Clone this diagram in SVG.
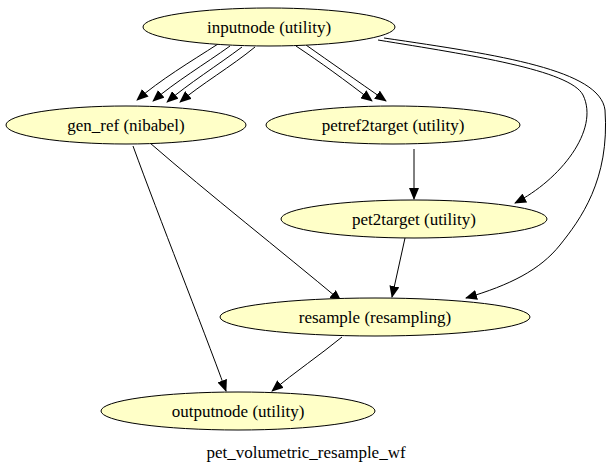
<svg xmlns="http://www.w3.org/2000/svg" width="612" height="473" viewBox="0 0 612 473" font-family="'Liberation Serif','Times New Roman','DejaVu Serif',serif">
<defs>
<marker id="a" markerWidth="12" markerHeight="10" refX="11" refY="5" orient="auto" markerUnits="userSpaceOnUse"><path d="M0,0 L12,5 L0,10 Z" fill="#000"/></marker>
<style>
ellipse{fill:#ffffc8;stroke:#000;stroke-width:1}
text{font-family:'Liberation Serif','Times New Roman','DejaVu Serif',serif;font-size:17px;text-anchor:middle;fill:#000}
.e path{fill:none;stroke:#000;stroke-width:1;marker-end:url(#a)}
</style>
</defs>
<rect width="612" height="473" fill="#fff"/>
<g class="e" id="edges">
<path d="M218,44 C190,62 160,80 137,100"/>
<path d="M230,46 C205,64 175,82 153,101"/>
<path d="M242,47 C218,65 188,84 167,102"/>
<path d="M255,47 C232,66 200,85 180,102"/>
<path d="M296,46 C320,62 345,80 372,101"/>
<path d="M306,45 C330,62 356,80 386,101"/>
<path d="M378,40 C470,55 570,70 583,95 C600,130 560,180 515,203"/>
<path d="M384,38 C500,55 600,70 605,110 C610,180 580,220 560,245 C540,270 510,285 466,298"/>
<path d="M150,143 C210,195 280,250 341,301"/>
<path d="M133,146 C160,220 200,320 226,391"/>
<path d="M414,149 L414,199"/>
<path d="M405,238 L392,297"/>
<path d="M342,337 C320,355 295,372 272,391"/>
</g>
<g id="inputnode"><ellipse cx="269" cy="27" rx="126" ry="19"/><text x="269" y="33">inputnode (utility)</text></g>
<g id="gen_ref"><ellipse cx="126" cy="125" rx="120" ry="19"/><text x="126" y="131">gen_ref (nibabel)</text></g>
<g id="petref2target"><ellipse cx="393" cy="125" rx="127" ry="19"/><text x="393" y="131">petref2target (utility)</text></g>
<g id="pet2target"><ellipse cx="414" cy="219" rx="133" ry="19"/><text x="414" y="225">pet2target (utility)</text></g>
<g id="resample"><ellipse cx="375" cy="317" rx="155" ry="19"/><text x="375" y="323">resample (resampling)</text></g>
<g id="outputnode"><ellipse cx="238" cy="411" rx="137" ry="19"/><text x="238" y="417">outputnode (utility)</text></g>
<text x="306" y="458">pet_volumetric_resample_wf</text>
</svg>
